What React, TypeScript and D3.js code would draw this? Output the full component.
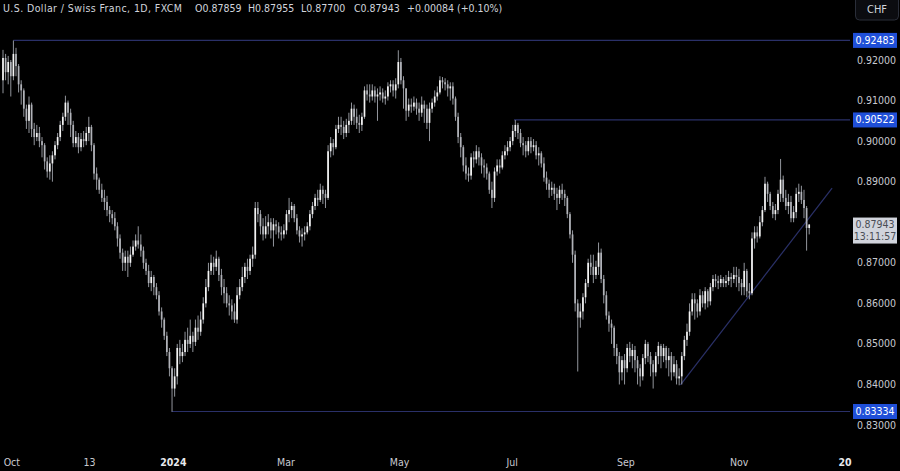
import React from "react";
import * as d3 from "d3";

// ---- DATA (USD/CHF daily, FXCM) ----
const firstOpen = 0.915;
const closes = [
  0.9205,0.917,0.9195,0.916,0.9215,0.9185,0.914,0.9125,0.908,0.905,
  0.909,0.903,0.901,0.902,0.9,0.899,0.895,0.8925,0.8945,0.8965,
  0.899,0.901,0.904,0.906,0.9095,0.907,0.904,0.8995,0.901,0.8985,
  0.9005,0.9,0.902,0.9035,0.899,0.892,0.8905,0.888,0.886,0.885,
  0.883,0.882,0.881,0.879,0.876,0.8725,0.87,0.8715,0.87,0.872,
  0.874,0.8755,0.8745,0.873,0.87,0.868,0.865,0.8665,0.864,0.862,
  0.858,0.856,0.852,0.848,0.844,0.839,0.842,0.849,0.847,0.848,
  0.851,0.85,0.852,0.8505,0.854,0.853,0.856,0.86,0.864,0.868,
  0.87,0.869,0.871,0.867,0.864,0.8625,0.86,0.8595,0.858,0.856,
  0.862,0.864,0.8665,0.869,0.868,0.871,0.872,0.8835,0.882,0.879,
  0.877,0.879,0.88,0.878,0.8795,0.879,0.8775,0.877,0.878,0.882,
  0.883,0.884,0.881,0.878,0.8765,0.877,0.8775,0.879,0.882,0.884,
  0.886,0.8855,0.888,0.887,0.886,0.8975,0.8995,0.8985,0.903,0.904,
  0.9035,0.902,0.904,0.905,0.908,0.906,0.9045,0.904,0.906,0.9125,
  0.9115,0.911,0.9125,0.911,0.9115,0.912,0.9105,0.911,0.9135,0.914,
  0.9125,0.914,0.9195,0.915,0.913,0.9075,0.909,0.9085,0.9095,0.908,
  0.907,0.909,0.908,0.9045,0.908,0.9095,0.911,0.912,0.915,0.9145,
  0.914,0.913,0.9135,0.9105,0.906,0.901,0.8985,0.894,0.892,0.8915,
  0.896,0.8955,0.8975,0.896,0.894,0.8935,0.892,0.888,0.886,0.8925,
  0.894,0.8935,0.8965,0.8975,0.8985,0.9,0.9025,0.904,0.902,0.8995,
  0.899,0.8975,0.9,0.8985,0.899,0.8965,0.897,0.8945,0.891,0.8895,
  0.888,0.8885,0.887,0.886,0.888,0.887,0.886,0.882,0.877,0.872,
  0.86,0.8565,0.858,0.8615,0.865,0.87,0.869,0.867,0.869,0.8725,
  0.866,0.862,0.857,0.855,0.854,0.849,0.847,0.843,0.846,0.844,
  0.849,0.847,0.8485,0.846,0.844,0.842,0.8465,0.85,0.847,0.845,
  0.843,0.847,0.8495,0.847,0.849,0.846,0.847,0.843,0.845,0.8415,
  0.842,0.847,0.851,0.853,0.858,0.861,0.86,0.858,0.862,0.86,
  0.863,0.8605,0.864,0.866,0.8655,0.865,0.866,0.865,0.8655,0.8665,
  0.866,0.867,0.8665,0.865,0.864,0.868,0.863,0.8625,0.876,0.8775,
  0.8765,0.88,0.883,0.8895,0.887,0.884,0.882,0.883,0.887,0.8905,
  0.886,0.884,0.885,0.881,0.8825,0.887,0.8875,0.8855,0.8835,0.87859,
  0.87943,
];
const highs = [
  0.9225,0.9215,0.921,0.92,0.9248,0.923,0.919,0.915,0.913,0.909,
  0.911,0.9095,0.9045,0.904,0.9035,0.901,0.8995,0.896,0.8965,0.8975,
  0.9,0.902,0.905,0.907,0.9112,0.91,0.908,0.905,0.9025,0.902,
  0.902,0.9025,0.9035,0.906,0.904,0.8995,0.8935,0.891,0.8895,0.888,
  0.8865,0.884,0.883,0.8825,0.88,0.877,0.8735,0.873,0.873,0.874,
  0.8755,0.877,0.879,0.877,0.874,0.871,0.8695,0.868,0.867,0.865,
  0.863,0.859,0.8565,0.853,0.849,0.8445,0.844,0.85,0.851,0.85,
  0.853,0.854,0.856,0.853,0.856,0.857,0.858,0.8615,0.866,0.87,
  0.872,0.8715,0.873,0.8715,0.8685,0.866,0.864,0.862,0.861,0.86,
  0.864,0.866,0.869,0.87,0.871,0.872,0.874,0.885,0.885,0.883,
  0.881,0.8815,0.882,0.881,0.881,0.8805,0.88,0.879,0.8795,0.883,
  0.886,0.885,0.8845,0.882,0.879,0.8785,0.879,0.88,0.883,0.885,
  0.887,0.888,0.8895,0.889,0.888,0.899,0.901,0.9005,0.904,0.906,
  0.906,0.905,0.9055,0.907,0.9095,0.909,0.908,0.9065,0.907,0.9135,
  0.914,0.914,0.914,0.9135,0.913,0.9135,0.913,0.9125,0.9145,0.915,
  0.915,0.9155,0.9224,0.9205,0.916,0.913,0.9105,0.9105,0.911,0.9105,
  0.9095,0.911,0.91,0.909,0.9095,0.9105,0.9125,0.9135,0.916,0.9158,
  0.9155,0.915,0.9145,0.9145,0.911,0.907,0.902,0.899,0.896,0.8935,
  0.897,0.8975,0.899,0.8985,0.897,0.8955,0.8945,0.8925,0.89,0.8935,
  0.8955,0.8955,0.8975,0.899,0.9,0.901,0.904,0.9052,0.9045,0.903,
  0.901,0.9,0.901,0.901,0.9005,0.9,0.8985,0.8975,0.896,0.8925,
  0.8905,0.89,0.8895,0.8885,0.889,0.8895,0.888,0.8865,0.8825,0.878,
  0.873,0.861,0.86,0.8625,0.866,0.871,0.872,0.872,0.8705,0.875,
  0.8735,0.867,0.863,0.858,0.856,0.8545,0.85,0.848,0.847,0.8475,
  0.85,0.8505,0.85,0.8495,0.847,0.845,0.8475,0.851,0.8505,0.848,
  0.846,0.848,0.8505,0.85,0.85,0.8495,0.849,0.848,0.847,0.846,
  0.844,0.848,0.852,0.855,0.86,0.8625,0.8625,0.861,0.8635,0.863,
  0.864,0.8635,0.865,0.867,0.8672,0.8668,0.867,0.8665,0.867,0.868,
  0.8675,0.869,0.869,0.8685,0.866,0.87,0.8685,0.865,0.8775,0.879,
  0.879,0.8815,0.884,0.8912,0.89,0.8875,0.885,0.8845,0.888,0.8956,
  0.8915,0.888,0.887,0.8865,0.884,0.8885,0.8895,0.889,0.888,0.884,
  0.87955,
];
const lows = [
  0.9118,0.915,0.914,0.911,0.915,0.916,0.912,0.909,0.906,0.903,
  0.902,0.901,0.899,0.9,0.8985,0.896,0.893,0.891,0.8905,0.89,
  0.8955,0.898,0.9,0.9025,0.905,0.904,0.901,0.8985,0.8985,0.897,
  0.8975,0.8985,0.899,0.9,0.8975,0.8905,0.888,0.887,0.885,0.883,
  0.8815,0.88,0.8795,0.878,0.874,0.871,0.868,0.868,0.8665,0.869,
  0.8715,0.873,0.8735,0.8715,0.8685,0.867,0.864,0.863,0.862,0.861,
  0.857,0.854,0.851,0.847,0.842,0.8333,0.837,0.84,0.845,0.8455,
  0.847,0.848,0.849,0.848,0.8495,0.851,0.852,0.855,0.859,0.863,
  0.867,0.867,0.868,0.8655,0.862,0.86,0.859,0.857,0.856,0.8552,
  0.855,0.861,0.863,0.865,0.866,0.867,0.869,0.871,0.88,0.877,
  0.8755,0.876,0.877,0.876,0.874,0.877,0.876,0.8755,0.876,0.877,
  0.88,0.881,0.88,0.877,0.875,0.874,0.8755,0.877,0.878,0.881,
  0.883,0.884,0.885,0.8845,0.8835,0.8855,0.896,0.8965,0.898,0.902,
  0.9015,0.9005,0.901,0.902,0.904,0.904,0.903,0.902,0.9025,0.9055,
  0.91,0.9095,0.91,0.9095,0.905,0.91,0.9095,0.909,0.91,0.912,
  0.911,0.9105,0.913,0.914,0.908,0.905,0.906,0.907,0.9075,0.9065,
  0.905,0.906,0.9045,0.903,0.9,0.907,0.9085,0.91,0.9115,0.913,
  0.9125,0.911,0.91,0.909,0.905,0.8995,0.896,0.8925,0.8905,0.89,
  0.8905,0.8935,0.8945,0.894,0.892,0.891,0.8905,0.887,0.8835,0.885,
  0.8915,0.892,0.893,0.8955,0.8965,0.8975,0.899,0.901,0.9005,0.8985,
  0.8965,0.896,0.8965,0.897,0.8975,0.8955,0.894,0.8935,0.89,0.888,
  0.886,0.8865,0.8855,0.883,0.8845,0.8855,0.884,0.881,0.876,0.87,
  0.858,0.8432,0.854,0.856,0.86,0.864,0.867,0.865,0.866,0.867,
  0.865,0.86,0.856,0.853,0.85,0.847,0.845,0.84,0.841,0.84,
  0.843,0.8455,0.844,0.843,0.84,0.8395,0.841,0.845,0.8455,0.842,
  0.839,0.842,0.845,0.844,0.8455,0.844,0.842,0.841,0.842,0.84,
  0.8398,0.84,0.846,0.8495,0.852,0.857,0.856,0.8565,0.857,0.859,
  0.8585,0.859,0.8595,0.863,0.864,0.8635,0.864,0.864,0.864,0.8645,
  0.864,0.865,0.864,0.863,0.862,0.862,0.8615,0.861,0.862,0.8735,
  0.875,0.876,0.879,0.8825,0.885,0.883,0.881,0.8805,0.882,0.885,
  0.885,0.883,0.882,0.88,0.88,0.881,0.885,0.8845,0.881,0.873,
  0.877,
];

// horizontal levels: price and starting bar index
const levelPrices = [0.92483, 0.90522, 0.83334];
const levelStartBars = [4, 196.5, 64.8];
// rising trend line (bar index, price)
const trendBars = [260.5, 318.8];
const trendPrices = [0.8399, 0.8884];

const priceTicks = [0.92, 0.91, 0.9, 0.89, 0.87, 0.86, 0.85, 0.84, 0.83];
const timeLabels = ["Oct", "13", "2024", "Mar", "May", "Jul", "Sep", "Nov", "20"];
const timeLabelBars = [3.4, 33.3, 65.5, 108.8, 152.5, 195.8, 239.5, 283.1, 323.8];
const boldLabels = ["2024", "20"];

const titleMain = "U.S. Dollar / Swiss Franc, 1D, FXCM";
const ohlcText = ["O0.87859", "H0.87955", "L0.87700", "C0.87943", "+0.00084 (+0.10%)"];
const ohlcX = [195, 248, 301, 354, 407];
const lastPrice = 0.87943;
const countdown = "13:11:57";

const W = 900;
const H = 471;
const PLOT_R = 850;
const FONT = "'Liberation Sans Narrow','DejaVu Sans Condensed',Roboto,'Liberation Sans',sans-serif";

export default function App() {
  const n = closes.length;
  const x = d3.scaleLinear().domain([0, n - 1]).range([3, 809.2]);
  const y = d3.scaleLinear().domain([0.83, 0.92]).range([425.04, 60]);

  const candles = closes.map((c, i) => {
    const o = i === 0 ? firstOpen : closes[i - 1];
    const h = Math.max(highs[i], o, c);
    const l = Math.min(lows[i], o, c);
    return { o, h, l, c, i };
  });
  const bw = 1.7;
  const lineColor = "#2a3068";

  return (
    <svg
      width={W}
      height={H}
      style={{ position: "fixed", left: 0, top: 0, background: "#000" }}
    >
      <rect x={0} y={0} width={W} height={H} fill="#000" />
      {levelPrices.map((p, k) => (
        <line
          key={"lv" + k}
          x1={x(levelStartBars[k])}
          x2={PLOT_R}
          y1={y(p)}
          y2={y(p)}
          stroke={lineColor}
          strokeWidth={1.2}
        />
      ))}
      <line
        x1={x(trendBars[0])}
        y1={y(trendPrices[0])}
        x2={x(trendBars[1])}
        y2={y(trendPrices[1])}
        stroke={lineColor}
        strokeWidth={1.2}
      />
      {candles.map((d) => {
        const cx = x(d.i);
        const up = d.c >= d.o;
        const top = y(Math.max(d.o, d.c));
        const bot = y(Math.min(d.o, d.c));
        return (
          <g key={d.i}>
            <line x1={cx} x2={cx} y1={y(d.h)} y2={y(d.l)} stroke="#a3a6ae" strokeWidth={0.9} />
            <rect
              x={cx - bw / 2}
              y={top}
              width={bw}
              height={Math.max(0.8, bot - top)}
              fill={up ? "#f4f4f4" : "#b0b2b8"}
            />
          </g>
        );
      })}
      {/* title */}
      <text x={3} y={12} fontFamily={FONT} fontSize={10.5} fill="#d1d4dc" textLength={179} lengthAdjust="spacing">
        {titleMain}
      </text>
      {ohlcText.map((t, k) => (
        <text key={k} x={ohlcX[k]} y={12} fontFamily={FONT} fontSize={10.5} fill="#d1d4dc">{t}</text>
      ))}
      {/* CHF button */}
      <rect x={855.5} y={-4} width={43} height={24} rx={4} fill="#0b0c10" stroke="#2a2e39" />
      <text x={877} y={13} textAnchor="middle" fontFamily={FONT} fontSize={11} fill="#d1d4dc">CHF</text>
      {priceTicks.map((p) => (
        <text
          key={p}
          x={876.5}
          y={y(p) + 3.5}
          textAnchor="middle"
          fontFamily={FONT}
          fontSize={10.5}
          fill="#c8cad0"
        >
          {p.toFixed(5)}
        </text>
      ))}
      {levelPrices.map((p, k) => (
        <g key={"ll" + k}>
          <rect x={853} y={y(p) - 7.5} width={44} height={15} fill="#1f4fd8" />
          <text x={875} y={y(p) + 3.5} textAnchor="middle" fontFamily={FONT} fontSize={10.5} fill="#ffffff">
            {p.toFixed(5)}
          </text>
        </g>
      ))}
      <rect x={853} y={y(lastPrice) - 7} width={44} height={26} fill="#d1d4dc" />
      <text x={875} y={y(lastPrice) + 3.5} textAnchor="middle" fontFamily={FONT} fontSize={10.5} fill="#4a4d55">
        {lastPrice.toFixed(5)}
      </text>
      <text x={875} y={y(lastPrice) + 15} textAnchor="middle" fontFamily={FONT} fontSize={10.5} fill="#4a4d55">
        {countdown}
      </text>
      {timeLabels.map((t, k) => (
        <text
          key={t + k}
          x={x(timeLabelBars[k])}
          y={466}
          textAnchor="middle"
          fontFamily={FONT}
          fontSize={10.5}
          fontWeight={boldLabels.includes(t) ? "bold" : "normal"}
          fill={boldLabels.includes(t) ? "#e8e9ec" : "#c8cad0"}
        >
          {t}
        </text>
      ))}
    </svg>
  );
}
